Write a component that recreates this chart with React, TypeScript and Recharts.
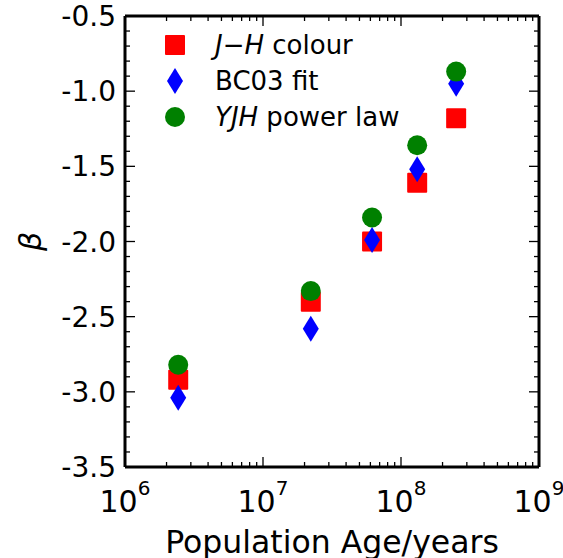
import React from 'react';
import { ScatterChart, Scatter, XAxis, YAxis, Legend } from 'recharts';

// population ages (years) and the three beta estimates
const ages = [2.43e6, 2.22e7, 6.17e7, 1.31e8, 2.51e8];
const betaColour = [-2.92, -2.4, -2.0, -1.61, -1.18];
const betaBC03 = [-3.04, -2.58, -1.99, -1.52, -0.95];
const betaPowerLaw = [-2.82, -2.33, -1.84, -1.36, -0.87];

const xMajor = [1e6, 1e7, 1e8, 1e9];
const xTicks = [
  ...xMajor,
  ...[1e6, 1e7, 1e8].flatMap((d) => [2, 3, 4, 5, 6, 7, 8, 9].map((m) => m * d)),
];
const yTicks = Array.from({ length: 31 }, (_, i) => Math.round((-3.5 + i * 0.1) * 10) / 10);

const FONT = '"DejaVu Sans", sans-serif';
const RED = '#ff0000';
const BLUE = '#0000ff';
const GREEN = '#008000';

const toPoints = (ys: number[]) => ages.map((age, i) => ({ age, beta: ys[i] }));
const colourData = toPoints(betaColour);
const bc03Data = toPoints(betaBC03);
const powerLawData = toPoints(betaPowerLaw);

const isMajorX = (v: number) => Math.abs(Math.log10(v) - Math.round(Math.log10(v))) < 1e-6;
const isMajorY = (v: number) => Math.abs(v * 2 - Math.round(v * 2)) < 1e-6;

const Square = ({ cx, cy }: any) => (
  <rect x={cx - 10} y={cy - 10} width={20} height={20} rx={1} fill={RED} />
);
const Diamond = ({ cx, cy }: any) => (
  <polygon
    points={`${cx},${cy - 13} ${cx + 8},${cy} ${cx},${cy + 13} ${cx - 8},${cy}`}
    fill={BLUE}
  />
);
const Dot = ({ cx, cy }: any) => <circle cx={cx} cy={cy} r={10} fill={GREEN} />;
const NoMark = () => <g />;

// ticks point into the plot, labels sit outside
const BottomTick = ({ x, y, payload }: any) => {
  const v = payload.value;
  const major = isMajorX(v);
  return (
    <g>
      <line x1={x} x2={x} y1={y} y2={y - (major ? 10 : 5)} stroke="#000" strokeWidth={1.3} />
      {major && (
        <text x={x} y={y + 45} textAnchor="middle" fontFamily={FONT} fontSize={30} fill="#000">
          10
          <tspan dy={-17} fontSize={20}>
            {Math.round(Math.log10(v))}
          </tspan>
        </text>
      )}
    </g>
  );
};

const TopTick = ({ x, y, payload }: any) => (
  <line x1={x} x2={x} y1={y} y2={y + (isMajorX(payload.value) ? 10 : 5)} stroke="#000" strokeWidth={1.3} />
);

const LeftTick = ({ x, y, payload }: any) => {
  const v = payload.value;
  const major = isMajorY(v);
  return (
    <g>
      <line x1={x} x2={x + (major ? 10 : 5)} y1={y} y2={y} stroke="#000" strokeWidth={1.3} />
      {major && (
        <text x={x - 9} y={y + 10} textAnchor="end" fontFamily={FONT} fontSize={28} fill="#000">
          {v.toFixed(1)}
        </text>
      )}
    </g>
  );
};

const RightTick = ({ x, y, payload }: any) => (
  <line x1={x} x2={x - (isMajorY(payload.value) ? 10 : 5)} y1={y} y2={y} stroke="#000" strokeWidth={1.3} />
);

const legendItems = [
  { key: 'colour', shape: 'square' },
  { key: 'bc03', shape: 'diamond' },
  { key: 'power', shape: 'circle' },
];

const LegendBox = () => (
  <svg width={300} height={110} style={{ display: 'block' }}>
    {legendItems.map((item, i) => {
      const cy = 20 + i * 36;
      const cx = 25;
      return (
        <g key={item.key}>
          {item.shape === 'square' && <Square cx={cx} cy={cy} />}
          {item.shape === 'diamond' && <Diamond cx={cx} cy={cy} />}
          {item.shape === 'circle' && <Dot cx={cx} cy={cy} />}
          <text x={65} y={cy + 9} fontFamily={FONT} fontSize={26} fill="#000">
            {item.key === 'colour' && (
              <>
                <tspan fontStyle="italic">J</tspan>
                <tspan>−</tspan>
                <tspan fontStyle="italic">H</tspan>
                <tspan> colour</tspan>
              </>
            )}
            {item.key === 'bc03' && 'BC03 fit'}
            {item.key === 'power' && (
              <>
                <tspan fontStyle="italic">YJH</tspan>
                <tspan> power law</tspan>
              </>
            )}
          </text>
        </g>
      );
    })}
  </svg>
);

const axisLine = { stroke: '#000', strokeWidth: 3 };

export default function App() {
  return (
    <div>
      <style>{'body { margin: 0; }'}</style>
      <ScatterChart width={563} height={558} margin={{ top: 15, right: 23, bottom: 0, left: 0 }}>
        <XAxis
          dataKey="age"
          type="number"
          scale="log"
          domain={[1e6, 1e9]}
          ticks={xTicks}
          allowDataOverflow
          height={91}
          tickSize={0}
          tickMargin={0}
          tickLine={false}
          axisLine={axisLine}
          tick={<BottomTick />}
          interval={0}
          label={{
            content: ({ viewBox }: any) => (
              <text
                x={viewBox.x + viewBox.width / 2}
                y={viewBox.y + 86}
                textAnchor="middle"
                fontFamily={FONT}
                fontSize={31.5}
                fill="#000"
              >
                Population Age/years
              </text>
            ),
          }}
        />
        <XAxis
          xAxisId="top"
          orientation="top"
          dataKey="age"
          type="number"
          scale="log"
          domain={[1e6, 1e9]}
          ticks={xTicks}
          allowDataOverflow
          height={1}
          tickSize={0}
          tickMargin={0}
          tickLine={false}
          axisLine={axisLine}
          tick={<TopTick />}
          interval={0}
        />
        <YAxis
          dataKey="beta"
          type="number"
          domain={[-3.5, -0.5]}
          ticks={yTicks}
          allowDataOverflow
          width={125}
          tickSize={0}
          tickMargin={0}
          tickLine={false}
          axisLine={axisLine}
          tick={<LeftTick />}
          interval={0}
          label={{
            content: ({ viewBox }: any) => {
              const cx = viewBox.x + 30;
              const cy = viewBox.y + viewBox.height / 2;
              return (
                <text
                  x={cx}
                  y={cy}
                  transform={`rotate(-90 ${cx} ${cy})`}
                  textAnchor="middle"
                  dominantBaseline="central"
                  fontFamily={FONT}
                  fontStyle="italic"
                  fontSize={30}
                  fill="#000"
                >
                  β
                </text>
              );
            },
          }}
        />
        <YAxis
          yAxisId="right"
          orientation="right"
          dataKey="beta"
          type="number"
          domain={[-3.5, -0.5]}
          ticks={yTicks}
          allowDataOverflow
          width={1}
          tickSize={0}
          tickMargin={0}
          tickLine={false}
          axisLine={axisLine}
          tick={<RightTick />}
          interval={0}
        />
        <Legend
          layout="vertical"
          align="center"
          verticalAlign="middle"
          wrapperStyle={{ left: 150, top: 25, width: 300 }}
          content={() => <LegendBox />}
        />
        {/* keeps the top/right frame axes tied to the same data */}
        <Scatter
          xAxisId="top"
          yAxisId="right"
          data={colourData}
          shape={<NoMark />}
          legendType="none"
          isAnimationActive={false}
        />
        <Scatter name="J−H colour" data={colourData} shape={<Square />} isAnimationActive={false} />
        <Scatter name="BC03 fit" data={bc03Data} shape={<Diamond />} isAnimationActive={false} />
        <Scatter name="YJH power law" data={powerLawData} shape={<Dot />} isAnimationActive={false} />
      </ScatterChart>
    </div>
  );
}
